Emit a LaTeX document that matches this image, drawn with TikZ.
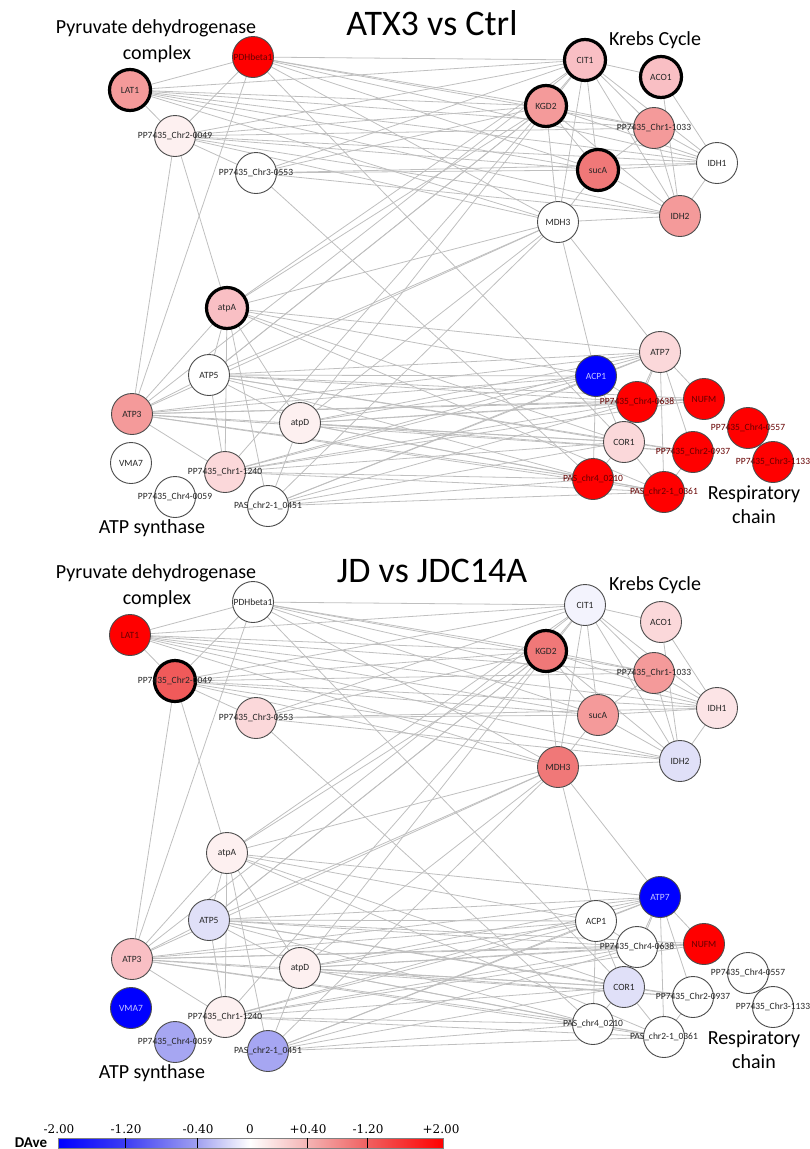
\documentclass[tikz,border=0pt]{standalone}
\usepackage{fontspec}
\setmainfont{Carlito}
\newfontfamily\numfont{DejaVu Serif}
\usetikzlibrary{backgrounds}
\definecolor{cR}{HTML}{FF0000}
\definecolor{cB}{HTML}{0000FF}
\definecolor{pA}{HTML}{FDF0F0}
\definecolor{pB}{HTML}{FBD8DA}
\definecolor{pC}{HTML}{F9BFC4}
\definecolor{pD}{HTML}{F49A9A}
\definecolor{pE}{HTML}{F07878}
\definecolor{pF}{HTML}{F05A5A}
\definecolor{pG}{HTML}{FCE4E6}
\definecolor{bA}{HTML}{F3F3FD}
\definecolor{bB}{HTML}{E0E0F8}
\definecolor{bC}{HTML}{A6A6F2}
\definecolor{lg0}{HTML}{0000FF}
\definecolor{lg1}{HTML}{3C3CF4}
\definecolor{lg2}{HTML}{A0A0F0}
\definecolor{lg3}{HTML}{FFFFFF}
\definecolor{lg4}{HTML}{F4B4B4}
\definecolor{lg5}{HTML}{F06060}
\definecolor{lg6}{HTML}{FF0000}
\tikzset{
  gn/.style={circle, draw=black!70, line width=0.9pt, minimum size=41pt, inner sep=0pt,
             font=\fontsize{9.5}{9.5}\selectfont, text=black!85, fill=white},
  hl/.style={draw=black, line width=3.2pt},
  onred/.style={text=red!40!black},
  onblue/.style={text=blue!22!white},
  edge/.style={draw=black!25, line width=0.8pt},
  grp/.style={font=\fontsize{20}{20}\selectfont, anchor=base, inner sep=0pt},
  ttl/.style={font=\fontsize{36}{36}\selectfont, anchor=base, inner sep=0pt},
  tick/.style={font=\numfont\fontsize{12}{12}\selectfont, anchor=base, inner sep=0pt},
  % panel a : ATX3 vs Ctrl
  aPDH/.style={fill=cR,onred}, aLAT/.style={fill=pD,hl}, aC49/.style={fill=pA}, aC553/.style={fill=white},
  aCIT/.style={fill=pC,hl}, aACO/.style={fill=pC,hl}, aKGD/.style={fill=pD,hl}, aC1033/.style={fill=pD},
  aIDH1/.style={fill=white}, aSUC/.style={fill=pE,hl}, aIDH2/.style={fill=pD}, aMDH/.style={fill=white},
  aATPA/.style={fill=pC,hl}, aATP5/.style={fill=white}, aATP3/.style={fill=pD}, aATPD/.style={fill=pA},
  aVMA/.style={fill=white}, aC1240/.style={fill=pB}, aC059/.style={fill=white}, aP451/.style={fill=white},
  aATP7/.style={fill=pB}, aACP/.style={fill=cB,onblue}, aC638/.style={fill=cR,onred}, aNUFM/.style={fill=cR,onred},
  aC557/.style={fill=cR,onred}, aCOR/.style={fill=pB}, aC937/.style={fill=cR,onred}, aC1133/.style={fill=cR,onred},
  aP210/.style={fill=cR,onred}, aP361/.style={fill=cR,onred},
  % panel b : JD vs JDC14A
  bPDH/.style={fill=white}, bLAT/.style={fill=cR,onred}, bC49/.style={fill=pF,hl}, bC553/.style={fill=pB},
  bCIT/.style={fill=bA}, bACO/.style={fill=pB}, bKGD/.style={fill=pE,hl}, bC1033/.style={fill=pD},
  bIDH1/.style={fill=pG}, bSUC/.style={fill=pD}, bIDH2/.style={fill=bB}, bMDH/.style={fill=pE},
  bATPA/.style={fill=pA}, bATP5/.style={fill=bB}, bATP3/.style={fill=pC}, bATPD/.style={fill=pA},
  bVMA/.style={fill=cB,onblue}, bC1240/.style={fill=pA}, bC059/.style={fill=bC}, bP451/.style={fill=bC},
  bATP7/.style={fill=cB,onblue}, bACP/.style={fill=white}, bC638/.style={fill=white}, bNUFM/.style={fill=cR,onred},
  bC557/.style={fill=white}, bCOR/.style={fill=bB}, bC937/.style={fill=white}, bC1133/.style={fill=white},
  bP210/.style={fill=white}, bP361/.style={fill=white},
}
\newcommand\nd[4]{\node[gn,#1#2] (#1#2) at (#3) {\makebox[0pt]{#4}};}
\newcommand\panel[1]{%
  \nd{#1}{PDH}{253,57}{PDHbeta1}
  \nd{#1}{LAT}{130,90}{LAT1}
  \nd{#1}{C49}{175,136}{PP7435\_Chr2-0049}
  \nd{#1}{C553}{256,173}{PP7435\_Chr3-0553}
  \nd{#1}{CIT}{585,60}{CIT1}
  \nd{#1}{ACO}{661,77}{ACO1}
  \nd{#1}{KGD}{546,106}{KGD2}
  \nd{#1}{C1033}{654,128}{PP7435\_Chr1-1033}
  \nd{#1}{IDH1}{717,163}{IDH1}
  \nd{#1}{SUC}{598,170}{sucA}
  \nd{#1}{IDH2}{680,216}{IDH2}
  \nd{#1}{MDH}{558,222}{MDH3}
  \nd{#1}{ATPA}{227,308}{atpA}
  \nd{#1}{ATP5}{209,375}{ATP5}
  \nd{#1}{ATP3}{132,414}{ATP3}
  \nd{#1}{ATPD}{300,423}{atpD}
  \nd{#1}{VMA}{131,463}{VMA7}
  \nd{#1}{C1240}{225,472}{PP7435\_Chr1-1240}
  \nd{#1}{C059}{175,497}{PP7435\_Chr4-0059}
  \nd{#1}{P451}{268,506}{PAS\_chr2-1\_0451}
  \nd{#1}{ATP7}{660,352}{ATP7}
  \nd{#1}{ACP}{596,376}{ACP1}
  \nd{#1}{C638}{637,402}{PP7435\_Chr4-0638}
  \nd{#1}{NUFM}{704,399}{NUFM}
  \nd{#1}{C557}{748,428}{PP7435\_Chr4-0557}
  \nd{#1}{COR}{624,442}{COR1}
  \nd{#1}{C937}{693,452}{PP7435\_Chr2-0937}
  \nd{#1}{C1133}{773,462}{PP7435\_Chr3-1133}
  \nd{#1}{P210}{593,479}{PAS\_chr4\_0210}
  \nd{#1}{P361}{664,492}{PAS\_chr2-1\_0361}
  \begin{pgfonlayer}{background}
  \foreach \u/\v in {LAT/PDH, LAT/C49, PDH/C49, C49/C553,
    LAT/CIT, LAT/KGD, LAT/C1033, LAT/IDH1, LAT/SUC, LAT/IDH2, LAT/MDH,
    PDH/CIT, PDH/KGD, PDH/C1033, PDH/IDH1, PDH/SUC, PDH/MDH,
    C49/CIT, C49/KGD, C49/C1033, C49/IDH1, C49/SUC, C49/IDH2, C49/MDH,
    C553/CIT, C553/KGD, C553/SUC, C553/IDH1, C553/IDH2,
    PDH/ATP3, C49/ATP3, C49/ATPA, PDH/COR, C553/P210,
    CIT/KGD, CIT/ACO, CIT/C1033, CIT/SUC, CIT/IDH1, CIT/IDH2, CIT/MDH,
    ACO/IDH1, ACO/IDH2, KGD/SUC, KGD/MDH, KGD/C1033, KGD/IDH1, KGD/IDH2,
    C1033/SUC, C1033/IDH2, C1033/IDH1, SUC/IDH2, SUC/MDH, SUC/IDH1, IDH1/IDH2, MDH/IDH2,
    MDH/ACP, MDH/ATP7,
    MDH/ATPA, MDH/ATP5, MDH/ATP3, KGD/ATPA, KGD/ATP5, CIT/ATP3, CIT/ATPA,
    ATPD/MDH, ATPD/CIT, C1240/KGD, P451/MDH, ATP5/KGD,
    ATPA/ATP7, ATPA/ACP, ATPA/COR, ATPA/P361,
    ATPA/ATP5, ATPA/ATP3, ATPA/ATPD, ATPA/C1240, ATPA/P451,
    ATP5/ATP3, ATP5/C1240, ATP3/C1240, ATPD/P451, ATP5/ATPD,
    ATP5/ATP7, ATP5/ACP, ATP5/C638, ATP5/COR, ATP5/P210, ATP5/NUFM, ATP5/C937,
    ATP3/ATP7, ATP3/ACP, ATP3/C638, ATP3/COR, ATP3/P210, ATP3/P361, ATP3/NUFM, ATP3/C937,
    ATPD/ACP, ATPD/C638, ATPD/COR, ATPD/P210, ATPD/C937, ATPD/ATP7, ATPD/NUFM, ATPD/P361,
    C1240/ACP, C1240/ATP7, C1240/COR, C1240/P210, C1240/P361, C1240/C638, C1240/NUFM,
    P451/ACP, P451/COR, P451/P210, P451/P361, P451/C638, P451/ATP7,
    ATP7/ACP, ATP7/C638, ATP7/NUFM, ATP7/COR, ATP7/C937, ATP7/P361,
    ACP/C638, ACP/COR, ACP/P210, C638/NUFM, C638/COR,
    COR/P210, COR/P361, COR/C937, P210/P361, C937/P361}
    {\draw[edge] (#1\u) -- (#1\v);}
  \end{pgfonlayer}
  \node[grp] (#1pdhA) at (156,33) {Pyruvate dehydrogenase};
  \node[grp] (#1pdhB) at (157,59) {complex};
  \node[grp] (#1krebs) at (655,45) {Krebs Cycle};
  \node[grp] (#1respA) at (754,499) {Respiratory};
  \node[grp] (#1respB) at (754,523) {chain};
  \node[grp] (#1atps) at (152,533) {ATP synthase};
}
\begin{document}
\begin{tikzpicture}[x=1pt,y=-1pt]
  \useasboundingbox (0,0) rectangle (810,1149);
  \node[ttl] (t1) at (432,35) {ATX3 vs Ctrl};
  \node[ttl] (t2) at (432,582) {JD vs JDC14A};
  \panel{a}
  \begin{scope}[yshift=-545pt]
    \panel{b}
  \end{scope}
  % legend
  \shade[left color=lg0, right color=lg1] (58,1138) rectangle (125,1148);
  \shade[left color=lg1, right color=lg2] (125,1138) rectangle (197,1148);
  \shade[left color=lg2, right color=lg3] (197,1138) rectangle (250,1148);
  \shade[left color=lg3, right color=lg4] (250,1138) rectangle (307,1148);
  \shade[left color=lg4, right color=lg5] (307,1138) rectangle (367,1148);
  \shade[left color=lg5, right color=lg6] (367,1138) rectangle (443,1148);
  \draw[black!50, line width=0.6pt] (58,1138) rectangle (443,1148);
  \foreach \xx in {125,197,307,367} \draw[black, line width=0.8pt] (\xx,1138) -- (\xx,1148);
  \node[tick] (l1) at (59,1133) {-2.00};
  \node[tick] (l2) at (126,1133) {-1.20};
  \node[tick] (l3) at (198,1133) {-0.40};
  \node[tick] (l4) at (250,1133) {0};
  \node[tick] (l5) at (308,1133) {+0.40};
  \node[tick] (l6) at (368,1133) {-1.20};
  \node[tick] (l7) at (441,1133) {+2.00};
  \node[font=\bfseries\fontsize{15}{15}\selectfont, anchor=base, inner sep=0pt] (dave) at (31,1147) {DAve};
\end{tikzpicture}
\end{document}
